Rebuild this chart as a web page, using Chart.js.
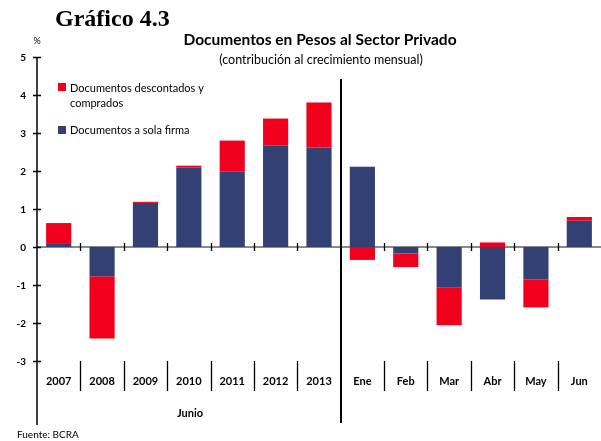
<!DOCTYPE html>
<html>
<head>
<meta charset="utf-8">
<script src="https://cdn.jsdelivr.net/npm/chart.js@4.4.0/dist/chart.umd.min.js"></script>
<style>
  html, body { margin: 0; padding: 0; background: #fff; }
  #wrap { width: 601px; height: 441px; position: relative; }
</style>
</head>
<body>
<div id="wrap"><canvas id="chart"></canvas></div>
<script>
// categories: June of each year, then the months of 2013
const categories = ['2007', '2008', '2009', '2010', '2011', '2012', '2013', 'Ene', 'Feb', 'Mar', 'Abr', 'May', 'Jun'];
const solaFirma = [0.08, -0.77, 1.16, 2.09, 1.98, 2.67, 2.62, 2.11, -0.17, -1.07, -1.38, -0.85, 0.69];
const descontados = [0.55, -1.64, 0.03, 0.05, 0.82, 0.71, 1.18, -0.34, -0.36, -0.99, 0.12, -0.74, 0.10];
const yTicks = [5, 4, 3, 2, 1, 0, -1, -2, -3];

const RED = 'rgb(240, 0, 28)';
const BLUE = 'rgb(50, 64, 116)';
const FONT = 'Lato, "DejaVu Sans", sans-serif';

const decorations = {
  id: 'decorations',
  beforeDatasetsDraw(chart) {
    const { ctx, chartArea, scales: { y } } = chart;
    const zero = y.getPixelForValue(0);
    ctx.save();
    // zero line
    ctx.strokeStyle = '#8a8a8a';
    ctx.lineWidth = 2;
    ctx.beginPath();
    ctx.moveTo(chartArea.left, zero);
    ctx.lineTo(chartArea.right, zero);
    ctx.stroke();
    ctx.restore();
  },
  afterDatasetsDraw(chart) {
    const { ctx, chartArea, scales: { x, y } } = chart;
    const zero = y.getPixelForValue(0);
    const bottom = y.getPixelForValue(-3);
    const half = (x.getPixelForValue(1) - x.getPixelForValue(0)) / 2;
    ctx.save();
    ctx.strokeStyle = '#000';

    // category boundary ticks on zero line and separators in label area
    ctx.lineWidth = 1.3;
    for (let i = 1; i < categories.length; i++) {
      const bx = Math.round(x.getPixelForValue(i) - half) + 0.5;
      if (i === 7) continue;
      ctx.beginPath();
      ctx.moveTo(bx, zero - 4);
      ctx.lineTo(bx, zero + 4);
      ctx.moveTo(bx, bottom);
      ctx.lineTo(bx, bottom + 30);
      ctx.stroke();
    }
    // big separator between years and months
    const sx = Math.round(x.getPixelForValue(7) - half);
    ctx.lineWidth = 2;
    ctx.beginPath();
    ctx.moveTo(sx, 79);
    ctx.lineTo(sx, 423);
    ctx.stroke();

    // y axis
    ctx.lineWidth = 1.5;
    ctx.beginPath();
    ctx.moveTo(chartArea.left, chartArea.top);
    ctx.lineTo(chartArea.left, 425);
    ctx.stroke();
    ctx.fillStyle = '#000';
    ctx.font = 'bold 10px ' + FONT;
    ctx.textAlign = 'right';
    ctx.textBaseline = 'middle';
    yTicks.forEach(v => {
      const py = Math.round(y.getPixelForValue(v)) + 0.5;
      ctx.beginPath();
      ctx.moveTo(chartArea.left - 4, py);
      ctx.lineTo(chartArea.left + 4, py);
      ctx.stroke();
      ctx.fillText(String(v), 26, py);
    });
    ctx.font = '9px ' + FONT;
    ctx.textAlign = 'center';
    ctx.fillText('%', 37, 41);

    // category labels
    ctx.font = 'bold 11px ' + FONT;
    categories.forEach((c, i) => {
      ctx.fillText(c, x.getPixelForValue(i), bottom + 20);
    });
    ctx.fillText('Junio', 190, 413);

    // titles
    ctx.font = 'bold 24px "Liberation Serif", serif';
    ctx.textAlign = 'left';
    ctx.fillText('Gráfico 4.3', 55, 20);
    ctx.font = 'bold 15.5px ' + FONT;
    ctx.textAlign = 'center';
    ctx.fillText('Documentos en Pesos al Sector Privado', 320, 40);
    ctx.font = '12.5px ' + FONT;
    ctx.fillText('(contribución al crecimiento mensual)', 321, 60);

    // legend
    ctx.textAlign = 'left';
    ctx.font = '11px ' + FONT;
    ctx.fillStyle = RED;
    ctx.fillRect(58, 83, 8, 8);
    ctx.fillStyle = BLUE;
    ctx.fillRect(58, 126, 8, 8);
    ctx.fillStyle = '#000';
    ctx.fillText('Documentos descontados y', 70, 88);
    ctx.fillText('comprados', 70, 103);
    ctx.fillText('Documentos a sola firma', 70, 130);

    // source
    ctx.font = '10px ' + FONT;
    ctx.fillText('Fuente: BCRA', 17, 435);
    ctx.restore();
  }
};

new Chart(document.getElementById('chart'), {
  type: 'bar',
  data: {
    labels: categories,
    datasets: [
      { label: 'Documentos a sola firma', data: solaFirma, backgroundColor: BLUE, stack: 's' },
      { label: 'Documentos descontados y comprados', data: descontados, backgroundColor: RED, stack: 's' }
    ]
  },
  options: {
    responsive: true,
    maintainAspectRatio: false,
    animation: false,
    layout: { padding: { left: 37, right: 0, top: 57, bottom: 80 } },
    datasets: { bar: { barPercentage: 0.58, categoryPercentage: 1 } },
    plugins: { legend: { display: false }, tooltip: { enabled: false } },
    scales: {
      x: { display: false, stacked: true },
      y: { display: false, stacked: true, min: -3, max: 5 }
    }
  },
  plugins: [decorations]
});
</script>
</body>
</html>
